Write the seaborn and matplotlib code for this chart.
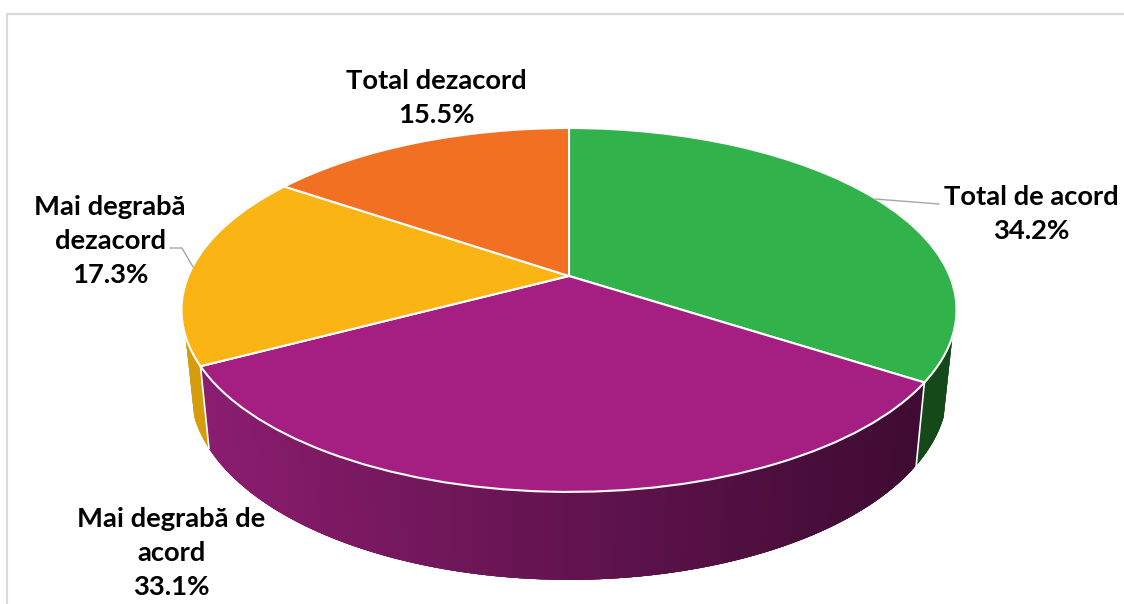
import numpy as np
import matplotlib
matplotlib.use("Agg")
import matplotlib.pyplot as plt
import matplotlib.colors as mcolors
from matplotlib.collections import PolyCollection
from matplotlib.transforms import Transform
import seaborn as sns

# ---- data (clockwise from 12 o'clock) ----
labels = ["Total de acord", "Mai degrabă de\nacord", "Mai degrabă\ndezacord", "Total dezacord"]
values = [34.2, 33.1, 17.3, 15.5]
top_colors = ["#31B24B", "#A51E82", "#FAB514", "#F27021"]
side_from = ["#15491A", "#8C1D70", "#D69C0E", "#A94E17"]
side_to = ["#15491A", "#3F0B33", "#D69C0E", "#A94E17"]

sns.set_theme(style="white")
plt.rcParams["font.family"] = ["Lato", "DejaVu Sans"]

W, H = 1124, 604
CX, CY = 569.0, 276.0      # apex of the pie on screen
B, A, K = 380.7, 175.6, 0.1866   # perspective of the tilted disc
SX, SY, DROP = 0.977, 1.046, 78.0  # bottom rim relative to top rim
SIL0, SIL1 = 108.7, 251.3  # visible side range, degrees clockwise from top


def project(x, y):
    d = 1 + K * y
    return B * x / d, A * y / d


class TopFace(Transform):
    input_dims = output_dims = 2
    is_affine = False
    has_inverse = False

    def transform_non_affine(self, xy):
        xy = np.asarray(xy, dtype=float)
        dx, dy = project(xy[:, 0], xy[:, 1])
        return np.column_stack([CX + dx, CY - dy])


def rim(theta_deg):
    t = np.radians(theta_deg)
    dx, dy = project(np.sin(t), np.cos(t))
    top = np.column_stack([CX + dx, CY - dy])
    bottom = np.column_stack([CX + SX * dx, CY + DROP - SY * dy])
    return top, bottom


fig = plt.figure(figsize=(W / 100, H / 100), dpi=100, facecolor="white")
ax = fig.add_axes([0, 0, 1, 1])

fractions = np.array(values) / np.sum(values)
edges = np.concatenate([[0], np.cumsum(fractions)]) * 360

# extruded side: overlapping strips so that no seams show
for i in range(len(values)):
    lo, hi = max(edges[i], SIL0), min(edges[i + 1], SIL1)
    if lo >= hi:
        continue
    th = np.linspace(lo, hi, 160)
    top, bot = rim(th)
    n = len(th) - 1
    quads = []
    for j in range(n):
        e = min(j + 4, n)
        quads.append(np.concatenate([top[j:e + 1], bot[j:e + 1][::-1]]))
    c0, c1 = np.array(mcolors.to_rgb(side_from[i])), np.array(mcolors.to_rgb(side_to[i]))
    xm = (bot[:-1, 0] + bot[1:, 0]) / 2
    f = np.clip((xm - 209) / (917 - 209), 0, 1)[:, None]
    cols = c0 * (1 - f) + c1 * f
    ax.add_collection(PolyCollection(quads[::-1], facecolors=cols[::-1], edgecolors="none",
                                     linewidths=0, zorder=1))

# white seams between side sections
for e in edges[1:3]:
    t_, b_ = rim(np.array([e]))
    ax.plot([t_[0, 0], b_[0, 0]], [t_[0, 1], b_[0, 1]], color="white", lw=1.2, zorder=2)

# top face: real pie wedges pushed through the perspective transform
wedges, _ = ax.pie(values, colors=top_colors, startangle=90, counterclock=False,
                   wedgeprops=dict(edgecolor="white", linewidth=1.5))
tf = TopFace() + ax.transData
for w in wedges:
    w.set_transform(tf)
    w.set_zorder(3)

ax.set_aspect("auto")
ax.set_xlim(0, W)
ax.set_ylim(H, 0)
ax.axis("off")

# chart frame
ax.plot([6.5, 6.5, W], [H, 14, 14], color="#D9D9D9", lw=1.6, zorder=0, solid_joinstyle="miter")

# leaders
ax.plot([875, 939], [199, 204], color="#A6A6A6", lw=1.0, zorder=4)
ax.plot([170, 182, 193], [248, 248, 267], color="#A6A6A6", lw=1.0, zorder=4)

# labels
label_xy = [(1031, 214), (171, 553), (110, 241), (436, 98)]
for lab, val, (x, y) in zip(labels, values, label_xy):
    ax.text(x, y, f"{lab}\n{val:.1f}%", ha="center", va="center", fontsize=19.7,
            fontweight="bold", color="black", linespacing=1.52, zorder=5)

fig.savefig("out.png", dpi=100, facecolor="white")
